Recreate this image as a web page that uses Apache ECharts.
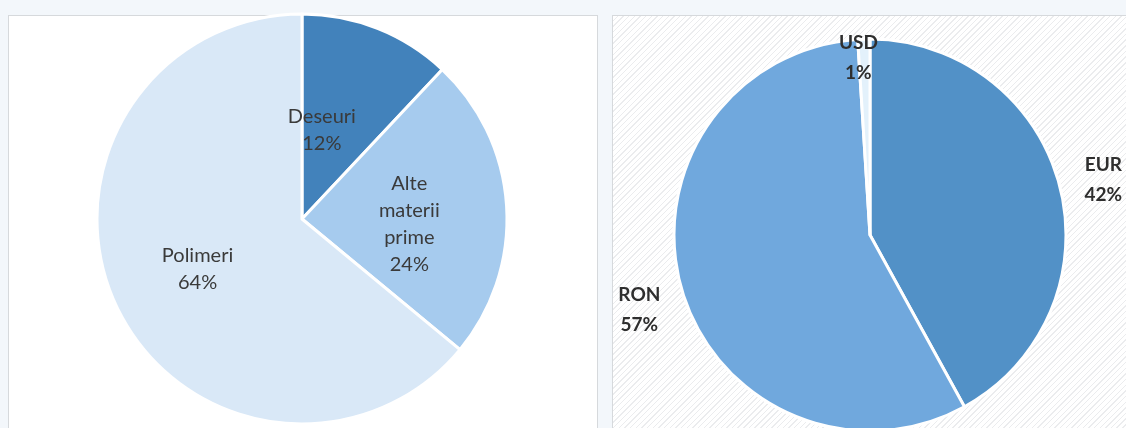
<!DOCTYPE html>
<html>
<head>
<meta charset="utf-8">
<script src="https://cdn.jsdelivr.net/npm/echarts@6/dist/echarts.min.js"></script>
<style>
  html, body { margin: 0; padding: 0; background: #f3f7fb; }
  #wrap { position: relative; width: 1126px; height: 428px; overflow: hidden; }
  .panel { position: absolute; top: 15px; height: 420px; border: 1px solid #d6d9dc; }
  #leftPanel { left: 8px; width: 588px; background: #ffffff; }
  #rightPanel { left: 612px; width: 520px;
    background: repeating-linear-gradient(135deg, #ffffff 0px, #ffffff 3px, #ebecee 3px, #ebecee 4px); }
  #chart { position: absolute; left: 0; top: 0; width: 1126px; height: 428px; }
</style>
</head>
<body>
<div id="wrap">
  <div class="panel" id="leftPanel"></div>
  <div class="panel" id="rightPanel"></div>
  <div id="chart"></div>
</div>
<script>
// materii prime (stanga)
const rawNames = ['Deseuri', 'Alte materii prime', 'Polimeri'];
const rawValues = [12, 24, 64];
const rawColors = ['#4282bb', '#a6cbee', '#d9e8f7'];
// label nudges per slice [dx, dy]
const rawNudge = [[-19, 9], [2, 12], [-9, 5]];

// monede (dreapta)
const curNames = ['EUR', 'RON', 'USD'];
const curValues = [42, 57, 1];
const curColors = ['#5291c7', '#70a8dd', '#e3f1fb'];
const curNudge = [[24, -3], [-23, 16], [0, 27]];

const chart = echarts.init(document.getElementById('chart'), null, { renderer: 'canvas' });

function wrapLabel(p) {
    return p.name.split(' ').join('\n') + '\n' + Math.round(p.percent) + '%';
}

const option = {
    backgroundColor: 'transparent',
    animation: false,
    series: [
        {
            name: 'materii',
            type: 'pie',
            center: [302, 219],
            radius: 205,
            startAngle: 90,
            clockwise: true,
            percentPrecision: 0,
            itemStyle: { borderColor: '#ffffff', borderWidth: 3 },
            label: {
                show: true,
                position: 'inside',
                formatter: wrapLabel,
                fontFamily: 'Lato',
                fontSize: 20,
                lineHeight: 27,
                color: '#3a3a3a'
            },
            labelLine: { show: false },
            labelLayout: function (p) {
                const n = rawNudge[p.dataIndex];
                return { dx: n[0], dy: n[1] };
            },
            data: rawNames.map((n, i) => ({ name: n, value: rawValues[i], itemStyle: { color: rawColors[i] } }))
        },
        {
            name: 'monede',
            type: 'pie',
            center: [870, 235],
            radius: 196,
            startAngle: 90,
            clockwise: true,
            percentPrecision: 0,
            itemStyle: { borderColor: '#ffffff', borderWidth: 3 },
            label: {
                show: true,
                position: 'outside',
                formatter: wrapLabel,
                fontFamily: 'Lato',
                fontWeight: 'bold',
                fontSize: 19,
                lineHeight: 30,
                color: '#2e2e2e',
                overflow: 'none',
                edgeDistance: 0,
                distanceToLabelLine: 5
            },
            labelLine: { show: false, length: 15, length2: 0 },
            labelLayout: function (p) {
                const n = curNudge[p.dataIndex];
                return { dx: n[0], dy: n[1], align: 'center' };
            },
            data: curNames.map((n, i) => ({ name: n, value: curValues[i], itemStyle: { color: curColors[i] } }))
        }
    ]
};

chart.setOption(option);
</script>
</body>
</html>
